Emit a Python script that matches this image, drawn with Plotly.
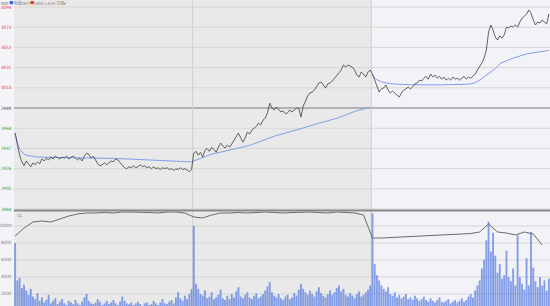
import plotly.graph_objects as go

# ---------------- data ----------------
price_ticks = [3094, 3073, 3052, 3031, 3010, 2989, 2968, 2947, 2926, 2905, 2884]
prev_close = 2989
vol_ticks = [10000, 8000, 6000, 4000, 2000]

price_day1 = [2963, 2950, 2940, 2933, 2929, 2934, 2931, 2928, 2932, 2930,
              2933, 2931, 2936, 2934, 2937, 2935, 2938, 2936, 2939, 2937,
              2936, 2938, 2937, 2939, 2936, 2938, 2939, 2937, 2935, 2937,
              2934, 2939, 2942, 2941, 2937, 2939, 2935, 2931, 2929, 2930,
              2932, 2930, 2932, 2934, 2933, 2936, 2935, 2932, 2930, 2927,
              2926, 2928, 2927, 2929, 2927, 2928, 2930, 2928, 2929, 2927,
              2928, 2926, 2928, 2926, 2927, 2925, 2927, 2926, 2927, 2925,
              2926, 2924, 2926, 2925, 2927, 2925, 2926, 2924, 2923, 2925]
price_day2 = [2942, 2944, 2940, 2943, 2938, 2945, 2947, 2944, 2948, 2946,
              2943, 2948, 2952.6, 2949.5, 2947.4, 2950.5, 2948.5, 2951.6, 2955.7, 2959,
              2963, 2958, 2953.6, 2958, 2964, 2962, 2966, 2968, 2970, 2973.4,
              2971.3, 2976.5, 2978.6, 2983.8, 2994, 2989, 2987, 2990, 2988, 2985,
              2986, 2983, 2984, 2987, 2985, 2987, 2989, 2989, 2979.6, 2991,
              2997, 3001.5, 3004.6, 3005.6, 3007.7, 3011.9, 3015, 3016, 3013, 3009.8,
              3014, 3015, 3017, 3020, 3022, 3025, 3028.5, 3033.7, 3031.6, 3033.7,
              3032.6, 3031.6, 3028.5, 3023.3, 3021.2, 3026.4, 3024.3, 3021.2, 3026.4, 3028.5]
price_day3 = [3024.3, 3018, 3010.8, 3005.6, 3008.8, 3009.8, 3012.9, 3007.7, 3004.6, 3006.6,
              3004.6, 3002.5, 3000.4, 3004.6, 3007.7, 3008.8, 3010.8, 3008.8, 3010.8, 3014,
              3015, 3018, 3017, 3020, 3022, 3019, 3024.3, 3021.2, 3023.3, 3020,
              3022, 3019, 3021.2, 3018, 3020, 3018, 3021.2, 3019, 3020, 3018,
              3020, 3022, 3019, 3021.2, 3020, 3022, 3024.3, 3028.5, 3031.6, 3035.8,
              3041, 3049.3, 3068, 3075.3, 3070, 3062.8, 3059.7, 3063.9, 3061.8, 3065,
              3073.2, 3072.2, 3074.2, 3073.2, 3075.3, 3073.2, 3078.4, 3082.5, 3084.6, 3086.7,
              3090.9, 3087.6, 3080.5, 3075.3, 3078.4, 3077.4, 3080.5, 3078.4, 3076.3, 3086.7]

avg_day1 = [2963, 2952, 2946, 2943, 2941, 2940, 2939.5, 2939, 2938.5, 2938.3,
            2938, 2938, 2937.9, 2937.9, 2937.8, 2937.8, 2937.7, 2937.7, 2937.6, 2937.6,
            2937.5, 2937.5, 2937.5, 2937.4, 2937.4, 2937.4, 2937.3, 2937.3, 2937.3, 2937.2,
            2937.2, 2937.2, 2937.2, 2937.2, 2937.1, 2937.1, 2937.1, 2937, 2937, 2936.9,
            2936.9, 2936.8, 2936.8, 2936.7, 2936.7, 2936.6, 2936.5, 2936.4, 2936.3, 2936.2,
            2936.1, 2936, 2935.9, 2935.8, 2935.7, 2935.6, 2935.5, 2935.4, 2935.3, 2935.2,
            2935.1, 2935, 2934.9, 2934.8, 2934.7, 2934.6, 2934.5, 2934.4, 2934.3, 2934.2,
            2934.1, 2934, 2933.9, 2933.8, 2933.7, 2933.6, 2933.5, 2933.4, 2933.2, 2933]
avg_day2 = [2934, 2935, 2936, 2937, 2937.8, 2938.6, 2939.4, 2940.2, 2941, 2941.5,
            2942, 2942.5, 2943, 2943.5, 2944, 2944.5, 2945, 2945.5, 2946, 2946.6,
            2947.2, 2947.8, 2948.4, 2949, 2949.6, 2950.2, 2951, 2951.9, 2952.8, 2953.7,
            2954.6, 2955.5, 2956.4, 2957.3, 2958.2, 2959.5, 2960, 2960.5, 2961, 2961.6,
            2962.2, 2962.8, 2963.4, 2964, 2964.5, 2965.2, 2966, 2966.8, 2967.6, 2968.4,
            2969.2, 2970, 2970.8, 2971.5, 2972, 2972.6, 2973.2, 2973.8, 2974.4, 2975,
            2975.6, 2976.1, 2976.5, 2977.4, 2978.3, 2979.2, 2980.1, 2981, 2981.9, 2982.8,
            2983.8, 2985, 2985.6, 2986.2, 2986.8, 2987.4, 2988, 2988.6, 2989.3, 2990]
avg_day3 = [3024, 3020, 3018.5, 3017, 3016.2, 3015.6, 3015, 3014.7, 3014.4, 3014.1,
            3013.9, 3013.7, 3013.6, 3013.5, 3013.4, 3013.3, 3013.3, 3013.2, 3013.2, 3013.1,
            3013.1, 3013, 3013, 3013, 3013, 3013, 3013, 3013, 3013, 3013,
            3013, 3013, 3013.1, 3013.1, 3013.2, 3013.2, 3013.3, 3013.3, 3013.4, 3013.5,
            3013.5, 3013.6, 3013.7, 3013.8, 3014, 3014.6, 3015.4, 3016.5, 3018, 3019.6,
            3021.2, 3022.8, 3024.4, 3026, 3028, 3030, 3032.5, 3035, 3036.2, 3037.3,
            3038.2, 3039.1, 3040, 3040.8, 3041.6, 3042.4, 3043.2, 3044, 3045, 3045.3,
            3045.6, 3045.9, 3046.2, 3046.5, 3047, 3047.5, 3048, 3048.3, 3048.6, 3049]

vol_day1 = [8000, 3600, 3900, 2700, 3100, 2400, 1900, 2600, 1700, 1400,
            2100, 1200, 1600, 1000, 1300, 1900, 900, 1200, 1500, 800,
            1100, 1400, 900, 700, 1200, 1000, 800, 1300, 900, 700,
            1100, 1600, 2000, 1200, 900, 800, 1000, 1400, 1100, 700,
            900, 1200, 800, 1000, 1300, 900, 700, 1100, 1700, 1200,
            900, 800, 1000, 700, 900, 1100, 800, 600, 900, 1000,
            700, 800, 1200, 900, 700, 1000, 1400, 900, 800, 1100,
            1300, 900, 1600, 2200, 1500, 1200, 1800, 1400, 2000, 2600]
vol_day2 = [10000, 3200, 2600, 2000, 1800, 2400, 1500, 1700, 2200, 1400,
            1600, 1900, 2500, 1500, 1300, 1800, 1400, 2000, 1600, 2300,
            2800, 1700, 1500, 1900, 2200, 1600, 1400, 1800, 2100, 1500,
            1700, 2000, 2400, 2900, 3400, 2200, 1800, 1600, 2000, 1500,
            1300, 1700, 1900, 1400, 1600, 2100, 1800, 2500, 3200, 2600,
            2200, 1900, 2400, 2000, 1700, 2300, 2800, 2100, 1800, 1600,
            2000, 2400, 1900, 2200, 2700, 3000, 2300, 2600, 1900, 1700,
            2100, 1800, 1500, 2000, 2300, 1700, 1900, 2200, 2500, 3000]
vol_day3 = [11500, 5500, 4200, 3600, 3000, 2600, 2300, 2800, 2000, 1800,
            2200, 1600, 1900, 1500, 1700, 2000, 1400, 1600, 1300, 1800,
            1500, 1200, 1400, 1700, 1300, 1100, 1500, 1200, 1000, 1300,
            1600, 1100, 1000, 1200, 1400, 900, 1100, 1300, 1000, 1200,
            1500, 1100, 1300, 1700, 2000, 1600, 2400, 3000, 3600, 5000,
            6000, 8300, 10500, 7000, 9200, 6500, 4500, 5500, 3800, 4200,
            7100, 4000, 3500, 5000, 3000, 8900, 4000, 3200, 2500, 6200,
            3000, 9300, 5100, 3500, 2800, 4000, 3000, 3600, 2400, 3800]

# CL line, sampled every 4 minute-slots
cl_step = 4
cl_values = [8820, 9760, 10470, 10580, 10470, 10820, 11170, 11410, 11525, 11525,
             11580, 11525, 11640, 11640, 11640, 11580, 11525, 11640, 11640, 11525,
             11050, 10940, 11290, 11525, 11525, 11580, 11525, 11580, 11640, 11580,
             11525, 11580, 11640, 11640, 11580, 11525, 11640, 11580, 11525, 11290,
             8585, 8585, 8640, 8700, 8760, 8820, 8820, 8880, 8940, 9000,
             9055, 9110, 9290, 10230, 9290, 9170, 8940, 9290, 9055, 7760]

header_text = ("<span style='color:#666'>mm</span> <span style='color:#3a5fc8'>■</span>"
               "均线2977<span style='color:#e0303a'>■</span>3058 1.43% 日线▾")

# ---------------- build ----------------
price = price_day1 + price_day2 + price_day3
avg = avg_day1 + avg_day2 + [None] + avg_day3
n = len(price)
day_len = len(price_day1)
x = list(range(n))
x_avg = list(range(2 * day_len)) + [2 * day_len - 0.5] + list(range(2 * day_len, n))
vol = vol_day1 + vol_day2 + vol_day3
x_cl = [i * cl_step for i in range(len(cl_values))]

P_RANGE = [2883, 3101.3]
V_RANGE = [588, 11760]
P_DOM = [0.3137, 1.0]
V_DOM = [0.0, 0.3105]
LBL_FONT = "Liberation Sans Narrow, DejaVu Sans Condensed, Arial Narrow, sans-serif"

fig = go.Figure()

fig.add_trace(go.Bar(x=x, y=vol, xaxis="x2", yaxis="y2",
                     marker=dict(color="rgba(95,130,225,0.75)", line=dict(width=0)),
                     hoverinfo="skip"))
fig.add_trace(go.Scatter(x=x_cl, y=cl_values, xaxis="x2", yaxis="y2", mode="lines",
                         line=dict(color="#6a6a6a", width=1), hoverinfo="skip"))
fig.add_trace(go.Scatter(x=x_avg, y=avg, mode="lines", connectgaps=False,
                         line=dict(color="#7f9fe8", width=1), hoverinfo="skip"))
fig.add_trace(go.Scatter(x=x, y=price, mode="lines",
                         line=dict(color="#3e3e3e", width=0.8), hoverinfo="skip"))

shapes = []
for yref, xr in (("y", "x"), ("y2", "x2")):
    shapes.append(dict(type="rect", xref=xr, yref=yref + " domain",
                       x0=-0.5, x1=2 * day_len - 0.5, y0=0, y1=1,
                       fillcolor="#e9e9e9", line=dict(width=0), layer="below"))
for t in price_ticks:
    is_ref = (t == prev_close)
    shapes.append(dict(type="line", xref="x domain", yref="y", x0=0, x1=1, y0=t, y1=t,
                       line=dict(color="#a0a0a0" if is_ref else "#d6d6d6",
                                 width=1.5 if is_ref else 1), layer="below"))
for t in vol_ticks:
    shapes.append(dict(type="line", xref="x2 domain", yref="y2", x0=0, x1=1, y0=t, y1=t,
                       line=dict(color="#d6d6d6", width=1), layer="below"))
for d in (1, 2):
    for yref, xr in (("y", "x"), ("y2", "x2")):
        shapes.append(dict(type="line", xref=xr, yref=yref + " domain",
                           x0=d * day_len - 0.5, x1=d * day_len - 0.5, y0=0, y1=1,
                           line=dict(color="#cfcfcf", width=1), layer="below"))
shapes.append(dict(type="line", xref="paper", yref="paper", x0=0, x1=1,
                   y0=(P_DOM[0] + V_DOM[1]) / 2, y1=(P_DOM[0] + V_DOM[1]) / 2,
                   line=dict(color="#8a8a8a", width=2)))

annotations = []
for t in price_ticks:
    col = "#e0303a" if t > prev_close else ("#2a9a2a" if t < prev_close else "#444444")
    annotations.append(dict(x=0, xref="paper", y=t, yref="y", text=str(t), showarrow=False,
                            xanchor="right", xshift=-1, borderpad=0,
                            font=dict(size=4.5, color=col, family=LBL_FONT)))
for t in vol_ticks:
    annotations.append(dict(x=0, xref="paper", y=t, yref="y2", text=str(t), showarrow=False,
                            xanchor="right", xshift=-1, borderpad=0,
                            font=dict(size=4.5, color="#777777", family=LBL_FONT)))
annotations.append(dict(x=0, xref="paper", y=1, yref="paper", text=header_text,
                        showarrow=False, xanchor="left", yanchor="top", xshift=-14, yshift=1,
                        borderpad=0, font=dict(size=4, color="#777777",
                                               family="Noto Sans CJK SC")))
annotations.append(dict(x=0, xref="paper", y=V_DOM[1], yref="paper", text="CL",
                        showarrow=False, xanchor="left", yanchor="top", xshift=2, yshift=-1,
                        borderpad=0, font=dict(size=4.5, color="#4a6fd0", family=LBL_FONT)))

fig.update_layout(
    width=550, height=306,
    margin=dict(l=14, r=0, t=0, b=0),
    paper_bgcolor="#f4f4f8", plot_bgcolor="#f3f3f7",
    showlegend=False, bargap=0.15,
    xaxis=dict(domain=[0, 1], range=[-0.5, n - 0.5], visible=False, anchor="y"),
    yaxis=dict(domain=P_DOM, range=P_RANGE, visible=False, anchor="x"),
    xaxis2=dict(domain=[0, 1], range=[-0.5, n - 0.5], visible=False, anchor="y2"),
    yaxis2=dict(domain=V_DOM, range=V_RANGE, visible=False, anchor="x2"),
    shapes=shapes, annotations=annotations,
)

fig.write_html("out.html")
